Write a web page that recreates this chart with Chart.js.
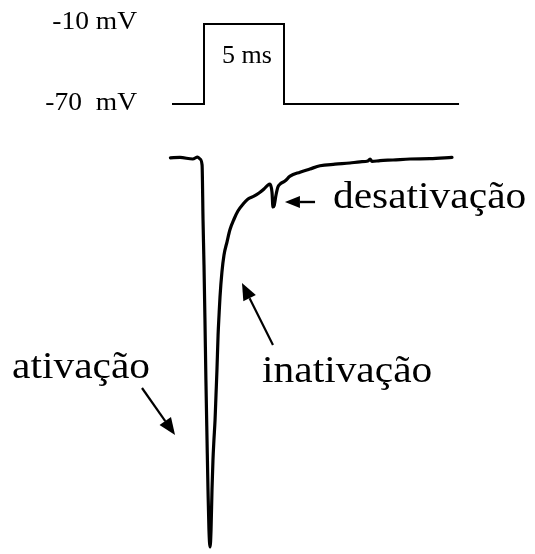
<!DOCTYPE html>
<html>
<head>
<meta charset="utf-8">
<script src="https://cdn.jsdelivr.net/npm/chart.js@4"></script>
<style>
  html, body { margin: 0; padding: 0; background: #fff; }
  canvas { display: block; }
</style>
</head>
<body>
<canvas id="c" width="535" height="554"></canvas>
<script>
// Voltage-clamp protocol: holding -70 mV, 5 ms step to -10 mV (time in ms)
const protocolTime = [0, 2, 2, 7, 7, 17.94];
const protocolVoltage = [-70, -70, -10, -10, -70, -70];

// Recorded sodium current (time in ms, current in nA)
const currentTime = [-0.1, 0.5, 1.3, 1.6, 1.75, 1.88, 1.94, 2.0, 2.06, 2.12, 2.19, 2.25, 2.31, 2.38,
  2.44, 2.5, 2.56, 2.62, 2.69, 2.75, 2.81, 2.88, 2.94, 3.0, 3.12, 3.25, 3.44, 3.62, 3.88, 4.12,
  4.44, 4.75, 5.12, 5.44, 5.75, 6.0, 6.12, 6.25, 6.31, 6.38, 6.5, 6.62, 6.75, 7.06, 7.38, 8.0,
  8.62, 9.25, 10.19, 11.12, 11.75, 12.25, 12.38, 12.5, 13.0, 13.81, 14.88, 16.12, 17.5];
const currentValues = [-0.02, -0.01, -0.05, 0.0, -0.05, -0.2, -1.58, -2.7, -4.08, -5.58, -7.08,
  -8.32, -9.32, -9.75, -9.32, -8.32, -7.58, -7.08, -6.58, -5.95, -5.32, -4.45, -3.95, -3.5, -2.88,
  -2.45, -2.12, -1.82, -1.55, -1.35, -1.18, -1.05, -0.98, -0.9, -0.8, -0.7, -0.68, -0.88, -1.25,
  -1.22, -0.95, -0.75, -0.68, -0.6, -0.48, -0.38, -0.3, -0.22, -0.18, -0.15, -0.12, -0.1, -0.05,
  -0.11, -0.09, -0.075, -0.05, -0.04, -0.01];

// Voltage level labels
const voltageLabels = ['-10 mV', '-70  mV'];
const voltageLabelLevels = [-10, -70];
const stepLabel = '5 ms';

// Phase labels with arrows, anchored in (ms, nA)
const phaseNames = ['desativação', 'inativação', 'ativação'];
const phaseTextAt = [[10.06, -1.275], [5.625, -5.625], [-10.0, -5.525]];
const arrowFrom = [[8.94, -1.125], [6.31, -4.7], [-1.875, -5.775]];
const arrowTo = [[7.06, -1.125], [4.375, -3.15], [0.19, -6.95]];

const toXY = (xs, ys) => xs.map((x, i) => ({ x, y: ys[i] }));

const SERIF = "'Liberation Serif', 'Times New Roman', serif";

function stretchedText(ctx, text, x, y, size, align, sx) {
  ctx.save();
  ctx.translate(x, y);
  ctx.scale(sx, 1);
  ctx.font = size + 'px ' + SERIF;
  ctx.textAlign = align;
  ctx.textBaseline = 'alphabetic';
  ctx.fillStyle = '#000';
  ctx.fillText(text, 0, 0);
  ctx.restore();
}

function arrow(ctx, x1, y1, x2, y2, headLen, headHalf, lw) {
  const a = Math.atan2(y2 - y1, x2 - x1);
  const bx = x2 - headLen * Math.cos(a), by = y2 - headLen * Math.sin(a);
  ctx.save();
  ctx.strokeStyle = '#000';
  ctx.fillStyle = '#000';
  ctx.lineWidth = lw;
  ctx.beginPath();
  ctx.moveTo(x1, y1);
  ctx.lineTo(bx, by);
  ctx.stroke();
  ctx.beginPath();
  ctx.moveTo(x2, y2);
  ctx.lineTo(bx + headHalf * Math.sin(a), by - headHalf * Math.cos(a));
  ctx.lineTo(bx - headHalf * Math.sin(a), by + headHalf * Math.cos(a));
  ctx.closePath();
  ctx.fill();
  ctx.restore();
}

const annotations = {
  id: 'annotations',
  afterDatasetsDraw(chart) {
    const ctx = chart.ctx;
    const xs = chart.scales.x, yv = chart.scales.yV, yi = chart.scales.yI;
    const x0 = xs.getPixelForValue(protocolTime[0]);
    voltageLabels.forEach((t, i) => {
      const y = yv.getPixelForValue(voltageLabelLevels[i]);
      stretchedText(ctx, t, x0 - 35, y + (i === 0 ? 5 : 6), 25, 'right', 1.1);
    });
    const mid = (protocolTime[2] + protocolTime[3]) / 2;
    stretchedText(ctx, stepLabel, xs.getPixelForValue(mid) + 3,
      yv.getPixelForValue((protocolVoltage[2] + protocolVoltage[0]) / 2) - 1, 25, 'center', 1.04);

    phaseNames.forEach((name, i) => {
      const tx = xs.getPixelForValue(phaseTextAt[i][0]);
      const ty = yi.getPixelForValue(phaseTextAt[i][1]);
      stretchedText(ctx, name, tx, ty, 37, 'left', 1.12);
      const ax1 = xs.getPixelForValue(arrowFrom[i][0]), ay1 = yi.getPixelForValue(arrowFrom[i][1]);
      const ax2 = xs.getPixelForValue(arrowTo[i][0]), ay2 = yi.getPixelForValue(arrowTo[i][1]);
      if (i === 0) arrow(ctx, ax1, ay1, ax2, ay2, 15, 6, 2.4);
      else arrow(ctx, ax1, ay1, ax2, ay2, 17, 7, 2.2);
    });
  }
};

function build() {
  new Chart(document.getElementById('c'), {
    type: 'scatter',
    data: {
      datasets: [
        {
          data: toXY(protocolTime, protocolVoltage),
          yAxisID: 'yV',
          showLine: true,
          borderColor: '#000',
          borderWidth: 2,
          pointRadius: 0,
          tension: 0
        },
        {
          data: toXY(currentTime, currentValues),
          yAxisID: 'yI',
          showLine: true,
          borderColor: '#000',
          borderWidth: 3.2,
          pointRadius: 0,
          cubicInterpolationMode: 'monotone',
          borderJoinStyle: 'round',
          borderCapStyle: 'round'
        }
      ]
    },
    options: {
      responsive: false,
      animation: false,
      layout: { padding: 0 },
      plugins: { legend: { display: false }, tooltip: { enabled: false } },
      scales: {
        x: { type: 'linear', display: false, min: -10.75, max: 22.6875 },
        yV: { type: 'linear', display: false, min: -407.5, max: 8 },
        yI: { type: 'linear', display: false, min: -9.925, max: 3.925 }
      }
    },
    plugins: [annotations]
  });
}

Promise.all([
  document.fonts.load("37px 'Liberation Serif'", 'desativação'),
  document.fonts.load("25px 'Liberation Serif'", '-10 mV')
]).then(build, build);
</script>
</body>
</html>
